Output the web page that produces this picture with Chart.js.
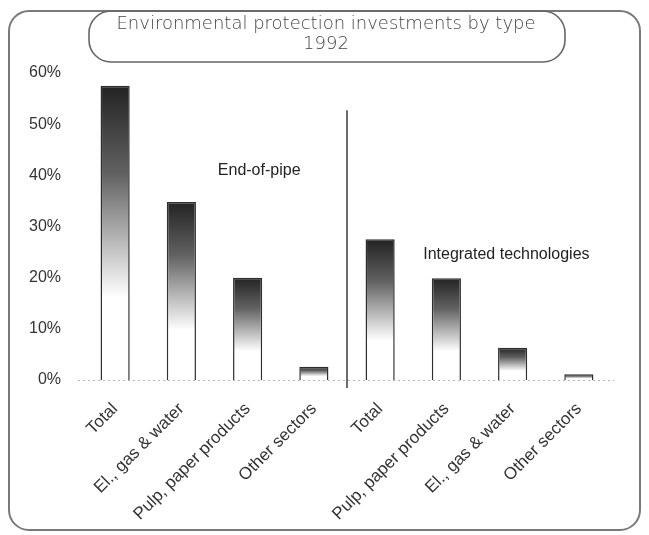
<!DOCTYPE html>
<html>
<head>
<meta charset="utf-8">
<script src="https://cdn.jsdelivr.net/npm/chart.js@4.4.1/dist/chart.umd.min.js"></script>
<style>
  html, body { margin: 0; padding: 0; background: #fff; }
  #wrap { width: 649px; height: 535px; }
</style>
</head>
<body>
<div id="wrap"><canvas id="myChart" width="649" height="535"></canvas></div>
<script>
// data
const categories = ["Total", "El., gas & water", "Pulp, paper products", "Other sectors",
                    "Total", "Pulp, paper products", "El., gas & water", "Other sectors"];
const shares = [57.5, 34.8, 20.0, 2.6, 27.5, 19.9, 6.3, 1.1];
const yTicks = [0, 10, 20, 30, 40, 50, 60];
const titleLines = ["Environmental protection investments by type", "1992"];
const groupNotes = [
  { text: "End-of-pipe", at: 1.55, value: 41.0 },
  { text: "Integrated technologies", at: 4.65, value: 24.5 }
];

// each bar fades from dark at the top to white lower down
function barFill(c) {
  const chart = c.chart;
  const area = chart.chartArea;
  if (!area) return '#555';
  const y = chart.scales.y;
  const top = y.getPixelForValue(c.raw);
  const base = y.getPixelForValue(0);
  const g = chart.ctx.createLinearGradient(0, top, 0, base);
  g.addColorStop(0, '#232323');
  g.addColorStop(0.3, '#626262');
  g.addColorStop(0.55, '#c0c0c0');
  g.addColorStop(0.72, '#ffffff');
  g.addColorStop(1, '#ffffff');
  return g;
}

const decor = {
  id: 'decor',
  beforeDraw(chart) {
    const ctx = chart.ctx;
    ctx.save();
    ctx.fillStyle = '#fff';
    ctx.fillRect(0, 0, chart.width, chart.height);
    // outer frame
    ctx.strokeStyle = '#7a7a7a';
    ctx.lineWidth = 2;
    ctx.beginPath();
    ctx.roundRect(9, 11, 631, 519, 20);
    ctx.stroke();
    // title box
    ctx.lineWidth = 1.6;
    ctx.strokeStyle = '#666';
    ctx.beginPath();
    ctx.roundRect(89, 11, 476, 51, 22);
    ctx.stroke();
    ctx.fillStyle = '#444';
    ctx.font = '200 18px "DejaVu Sans"';
    ctx.textAlign = 'center';
    ctx.textBaseline = 'middle';
    ctx.fillText(titleLines[0], 326, 24);
    ctx.fillText(titleLines[1], 326, 44);
    ctx.restore();
  },
  afterDatasetsDraw(chart) {
    const ctx = chart.ctx;
    const x = chart.scales.x, y = chart.scales.y;
    ctx.save();
    // dotted baseline
    const y0 = y.getPixelForValue(0);
    ctx.strokeStyle = '#b5b5b5';
    ctx.lineWidth = 1;
    ctx.setLineDash([2, 3]);
    ctx.beginPath();
    ctx.moveTo(chart.chartArea.left - 4, y0 + 0.5);
    ctx.lineTo(chart.chartArea.right + 2, y0 + 0.5);
    ctx.stroke();
    ctx.setLineDash([]);
    // divider between the two groups
    const xd = (x.getPixelForValue(3) + x.getPixelForValue(4)) / 2;
    ctx.strokeStyle = '#3a3a3a';
    ctx.lineWidth = 1.5;
    ctx.beginPath();
    ctx.moveTo(xd, y.getPixelForValue(52.7));
    ctx.lineTo(xd, y0 + 8);
    ctx.stroke();
    // group notes
    ctx.fillStyle = '#222';
    ctx.font = '16px "Liberation Sans"';
    ctx.textAlign = 'left';
    ctx.textBaseline = 'middle';
    const step = x.getPixelForValue(1) - x.getPixelForValue(0);
    groupNotes.forEach(n => {
      const px = x.getPixelForValue(0) + n.at * step;
      ctx.fillText(n.text, px, y.getPixelForValue(n.value));
    });
    ctx.restore();
  }
};

new Chart(document.getElementById('myChart'), {
  type: 'bar',
  data: {
    labels: categories,
    datasets: [{
      data: shares,
      backgroundColor: barFill,
      borderColor: '#2e2e2e',
      borderWidth: 1.5,
      borderSkipped: 'bottom',
      barPercentage: 0.44,
      categoryPercentage: 1
    }]
  },
  options: {
    responsive: false,
    animation: false,
    layout: { padding: { left: 10, right: 37, top: 73, bottom: 5 } },
    plugins: {
      legend: { display: false },
      title: { display: false },
      tooltip: { enabled: false }
    },
    scales: {
      y: {
        min: 0,
        max: 60,
        afterBuildTicks(s) { s.ticks = yTicks.map(v => ({ value: v })); },
        afterFit(s) { s.width = 72; },
        grid: { display: false },
        border: { display: false },
        ticks: {
          padding: 13,
          color: '#333',
          font: { family: '"Liberation Sans"', size: 16 },
          callback: v => v + '%'
        }
      },
      x: {
        afterFit(s) { s.height = 150; },
        grid: { display: false },
        border: { display: false },
        ticks: {
          autoSkip: false,
          minRotation: 45,
          maxRotation: 45,
          padding: 11,
          color: '#333',
          font: { family: '"Liberation Sans"', size: 17 }
        }
      }
    }
  },
  plugins: [decor]
});
</script>
</body>
</html>
